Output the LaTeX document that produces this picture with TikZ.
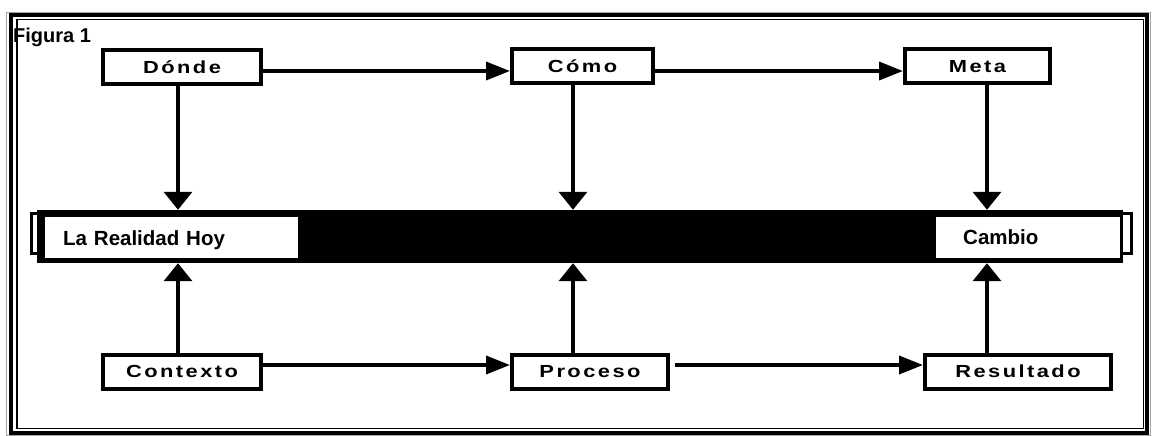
\documentclass[tikz,border=0pt]{standalone}
\usepackage{fontspec}
\setmainfont{Liberation Sans}
\usetikzlibrary{arrows.meta,calc,positioning}
\newcommand{\BoxFont}{\fontsize{17.5}{19}\selectfont\bfseries\addfontfeature{FakeStretch=1.25,LetterSpace=14}}
\newcommand{\BandFont}{\fontsize{20.5}{22}\selectfont\bfseries}
\tikzset{
  stepbox/.style={draw, line width=4pt, fill=white, inner sep=0pt, minimum height=34pt,
    text height=12.5pt, text depth=0pt, font=\BoxFont},
  bandbox/.style={fill=white, inner ysep=0pt, minimum height=41pt, align=left,
    text height=15pt, text depth=0pt, font=\BandFont},
  lip/.style={draw, line width=3pt, fill=white},    % small ends of the band
  hArrow/.style={-{Triangle[length=24pt,width=18pt]}, line width=3.5pt},
  vArrow/.style={-{Triangle[length=18pt,width=28pt]}, line width=3.5pt}
}
\newcommand{\DrawFrame}{%
  \draw[gray!70, line width=1pt] (6.5,12.5) rectangle (1150.5,435.5);
  \draw[line width=4pt] (10.5,15.5) rectangle (1147,432.5);
  \draw[line width=1.2pt] (17,19.5) rectangle (1143.5,428.5);
}
\begin{document}
\begin{tikzpicture}[x=1pt,y=-1pt]
  \useasboundingbox (0,0) rectangle (1152,436);
  \DrawFrame
  \node[anchor=base west, inner sep=0pt, font=\fontsize{20}{21}\selectfont\bfseries] (fig) at (13,43) {Figura 1};
  % columns and rows of the connectors
  \coordinate (colA) at (178,0);
  \coordinate (colB) at (573,0);
  \coordinate (colC) at (987,0);
  \coordinate (rowT) at (0,71);
  \coordinate (rowB) at (0,365);
  % top row
  \node[stepbox, minimum width=158pt] (donde) at (182,67) {Dónde};
  \node[stepbox, minimum width=141pt] (como) at (582.5,66.5) {Cómo};
  \node[stepbox, minimum width=145pt] (meta) at (977.5,66.5) {Meta};
  % bottom row
  \node[stepbox, minimum width=158pt] (contexto) at (182,371.5) {Contexto};
  \node[stepbox, minimum width=156pt] (proceso) at (590,371.5) {Proceso};
  \node[stepbox, minimum width=186pt] (resultado) at (1018,371.5) {Resultado};
  % the band
  \draw[lip] (31.5,213.5) rectangle (39,253.5);
  \draw[lip] (1121.5,213) rectangle (1131.5,253.5);
  \node[fill=black, inner sep=0pt, minimum width=1086pt, minimum height=53pt] (band) at (580,236.5) {};
  \node[bandbox, anchor=west, text width=217pt, inner xsep=18pt] (realidad) at (45,237.5) {La Realidad Hoy};
  \node[bandbox, anchor=west, text width=130pt, inner xsep=27pt] (cambio) at (936,237) {Cambio};
  % arrows
  \draw[hArrow] (donde.east |- rowT) -- (como.west |- rowT);
  \draw[hArrow] (como.east |- rowT) -- (meta.west |- rowT);
  \draw[hArrow] (contexto.east |- rowB) -- (proceso.west |- rowB);
  \draw[hArrow] ([xshift=5pt]proceso.east |- rowB) -- (resultado.west |- rowB);
  \draw[vArrow] (donde.south -| colA) -- (band.north -| colA);
  \draw[vArrow] (como.south -| colB) -- (band.north -| colB);
  \draw[vArrow] (meta.south -| colC) -- (band.north -| colC);
  \draw[vArrow] (contexto.north -| colA) -- (band.south -| colA);
  \draw[vArrow] (proceso.north -| colB) -- (band.south -| colB);
  \draw[vArrow] (resultado.north -| colC) -- (band.south -| colC);
\end{tikzpicture}
\end{document}
